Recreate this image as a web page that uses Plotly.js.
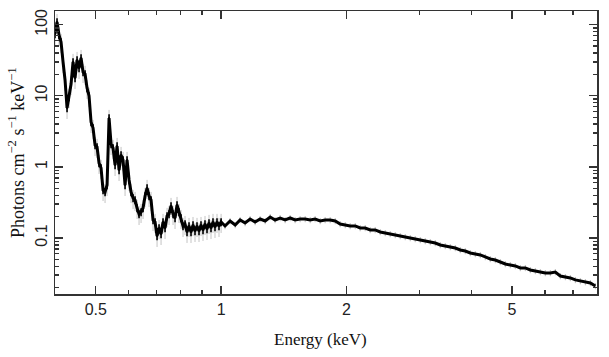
<!DOCTYPE html>
<html>
<head>
<meta charset="utf-8">
<script src="https://cdn.plot.ly/plotly-3.0.1.min.js"></script>
<style>html,body{margin:0;padding:0;background:#fff;}#chart{width:609px;height:357px;}</style>
</head>
<body>
<div id="chart"></div>
<script>
// Energy bins (keV) and photon flux (photons cm^-2 s^-1 keV^-1)
const energyKeV = [
  0.399,0.4035,0.408,0.4126,0.4172,0.4218,0.4265,0.4313,0.4361,0.4409,
  0.4458,0.4508,0.4558,0.4609,0.466,0.4712,0.4764,0.4817,0.4871,0.4925,
  0.498,0.5035,0.5091,0.5148,0.5205,0.5263,0.5322,0.5381,0.5441,0.5501,
  0.5563,0.5625,0.5687,0.575,0.5814,0.5879,0.5944,0.6011,0.6077,0.6145,
  0.6213,0.6283,0.6352,0.6423,0.6494,0.6567,0.664,0.6713,0.6788,0.6863,
  0.694,0.7017,0.7095,0.7174,0.7253,0.7334,0.7416,0.7498,0.7581,0.7666,
  0.7751,0.7837,0.7924,0.8012,0.8101,0.8191,0.8282,0.8374,0.8467,0.8561,
  0.8656,0.8752,0.885,0.8948,0.9048,0.9148,0.925,0.9353,0.9457,0.9562,
  0.9668,0.9776,0.9884,1.0,
  1.022,1.051,1.081,1.111,1.142,1.174,1.207,1.241,1.276,1.312,
  1.348,1.386,1.425,1.465,1.506,1.548,1.592,1.637,1.682,1.730,
  1.778,1.828,1.880,1.932,1.987,2.042,2.100,2.158,2.219,2.281,
  2.345,2.411,2.479,2.548,2.620,2.693,2.769,2.847,2.926,3.009,
  3.093,3.180,3.269,3.361,3.455,3.552,3.652,3.754,3.859,3.968,
  4.079,4.194,4.311,4.432,4.557,4.684,4.816,4.951,5.090,5.233,
  5.380,5.531,5.686,5.845,6.009,6.178,6.351,6.530,6.713,6.901,
  7.095,7.294,7.499,7.709,7.925
];
const photonFlux = [
  74.0,109,71.6,57.1,29.9,16.7,6.74,9.62,14.65,29.9,
  17.8,31.9,24.6,34.0,21.6,20.3,12.9,9.94,4.28,3.52,
  2.03,1.905,1.134,0.965,0.473,0.443,0.556,4.87,2.10,1.845,
  1.063,1.967,0.904,1.47,1.25,0.556,1.25,0.654,0.443,0.365,
  0.342,0.264,0.2175,0.232,0.264,0.390,0.505,0.390,0.342,0.179,
  0.168,0.1067,0.138,0.1138,0.168,0.138,0.204,0.2175,0.282,0.2175,
  0.191,0.291,0.232,0.191,0.1475,0.157,0.1215,0.1475,0.1215,0.152,
  0.1254,0.1475,0.1254,0.152,0.1296,0.157,0.1338,0.1625,0.138,0.168,
  0.1428,0.168,0.1475,0.168,
  0.1475,0.1734,0.1523,0.1791,0.1625,0.1850,0.1679,0.1850,0.1734,0.1974,
  0.1791,0.1911,0.1791,0.1911,0.1791,0.1850,0.1850,0.1791,0.1850,0.1734,
  0.1791,0.1791,0.1734,0.1573,0.1523,0.1475,0.1475,0.1382,0.1382,0.1296,
  0.1296,0.1215,0.1176,0.1138,0.1102,0.1067,0.1033,0.1000,0.0968,0.0937,
  0.0907,0.0878,0.0850,0.0797,0.0772,0.0747,0.0723,0.0678,0.0656,0.0615,
  0.0596,0.0577,0.0541,0.0507,0.0490,0.0460,0.0431,0.0417,0.0404,0.0379,
  0.0379,0.0355,0.0344,0.0332,0.0322,0.0322,0.0332,0.0292,0.0283,0.0274,
  0.0257,0.0248,0.0240,0.0233,0.0211
];
const xTickVals = [0.5, 1, 2, 5];
const xTickText = ['0.5', '1', '2', '5'];
const xMinorVals = [0.6, 0.7, 0.8, 0.9, 3, 4, 6, 7];
const yTickVals = [0.1, 1, 10, 100];
const yTickText = ['0.1', '1', '10', '100'];
const yMinorVals = [0.02,0.03,0.04,0.05,0.06,0.07,0.08,0.09,
                    0.2,0.3,0.4,0.5,0.6,0.7,0.8,0.9,
                    2,3,4,5,6,7,8,9,20,30,40,50,60,70,80,90];

// soft-band subset (below 1 keV) drawn with its wider statistical scatter
const softE = [], softF = [];
energyKeV.forEach((e, i) => { if (e <= 1.0) { softE.push(e); softF.push(photonFlux[i]); } });

const axisCol = '#333';
const tickFont = {family: 'Liberation Sans, Arial, sans-serif', size: 16, color: '#222'};
const titleFont = {family: 'Liberation Serif, Times New Roman, serif', size: 18, color: '#111'};

const traces = [
  {
    x: energyKeV, y: photonFlux, type: 'scatter', mode: 'markers',
    marker: {size: 1, color: '#aaa'},
    error_y: {type: 'percent', value: 10, color: '#b8b8b8', thickness: 1, width: 0},
    hoverinfo: 'skip', showlegend: false
  },
  {
    x: softE, y: softF, type: 'scatter', mode: 'markers',
    marker: {size: 1, color: '#bbb'},
    error_y: {type: 'percent', value: 30, color: '#c4c4c4', thickness: 1, width: 0},
    hoverinfo: 'skip', showlegend: false
  },
  {
    x: softE, y: softF, type: 'scatter', mode: 'markers',
    marker: {size: 2, color: '#000'},
    error_y: {type: 'percent', value: 13, color: '#000', thickness: 1.6, width: 0},
    hoverinfo: 'skip', showlegend: false
  },
  {
    x: energyKeV, y: photonFlux, type: 'scatter', mode: 'lines',
    line: {color: '#000', width: 3}, showlegend: false
  }
];

const layout = {
  width: 609, height: 357,
  margin: {l: 55, r: 12, t: 11, b: 63, pad: 0},
  paper_bgcolor: '#fff', plot_bgcolor: '#fff',
  showlegend: false,
  xaxis: {
    type: 'log', range: [-0.399, 0.903],
    tickvals: xTickVals, ticktext: xTickText,
    ticks: 'inside', ticklen: 8, tickwidth: 1.3, tickcolor: axisCol,
    minor: {tickvals: xMinorVals, ticks: 'inside', ticklen: 4, tickwidth: 1.3, tickcolor: axisCol, showgrid: false},
    showline: true, linecolor: axisCol, linewidth: 1.5, mirror: 'ticks',
    showgrid: false, zeroline: false, tickfont: tickFont
  },
  yaxis: {
    type: 'log', range: [-1.788, 2.193],
    tickvals: yTickVals, ticktext: yTickText, tickangle: -90,
    ticks: 'inside', ticklen: 8, tickwidth: 1.3, tickcolor: axisCol,
    minor: {tickvals: yMinorVals, ticks: 'inside', ticklen: 4, tickwidth: 1.3, tickcolor: axisCol, showgrid: false},
    showline: true, linecolor: axisCol, linewidth: 1.5, mirror: 'ticks',
    showgrid: false, zeroline: false, tickfont: tickFont
  },
  annotations: [
    {text: 'Energy (keV)', xref: 'paper', yref: 'paper', x: 0.489, y: -0.1625,
     xanchor: 'center', yanchor: 'middle', showarrow: false,
     font: {family: titleFont.family, size: 17, color: '#111'}},
    {text: 'Photons cm<sup>\u22122</sup> s<sup>\u22121</sup> keV<sup>\u22121</sup>',
     xref: 'paper', yref: 'paper', x: -0.071, y: 0.5, textangle: -90,
     xanchor: 'center', yanchor: 'middle', showarrow: false, font: titleFont}
  ]
};

Plotly.newPlot('chart', traces, layout, {staticPlot: true, displayModeBar: false});
</script>
</body>
</html>
